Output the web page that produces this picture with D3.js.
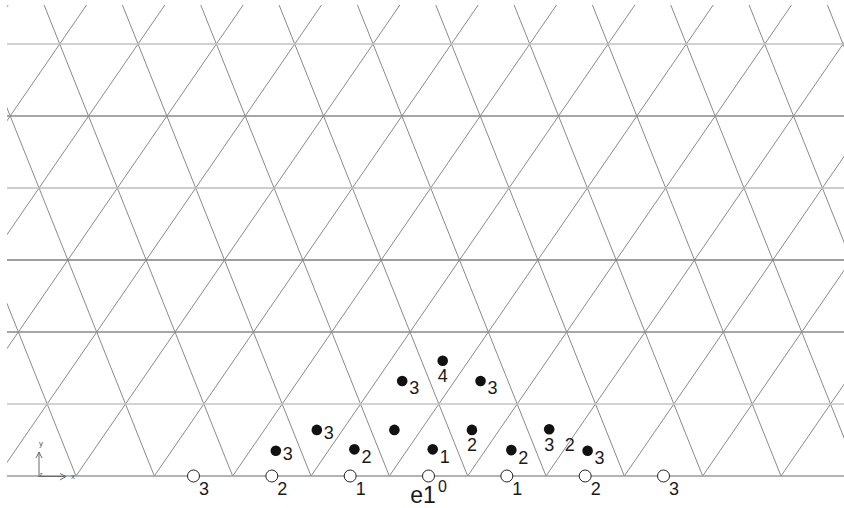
<!DOCTYPE html>
<html>
<head>
<meta charset="utf-8">
<script src="https://cdn.jsdelivr.net/npm/d3@7/dist/d3.min.js"></script>
<style>
  html, body { margin: 0; padding: 0; background: #fff; }
  svg { display: block; }
  text { font-family: "Liberation Sans", Arial, sans-serif; fill: #1a1a1a; }
</style>
</head>
<body>
<svg id="chart" width="844" height="508"></svg>
<script>
// Filled sites, given in lattice coordinates (a along e1, b along the slanted e2)
const dotA = [-2.17, -1.83, -1.18, -0.84, -0.18, 0.15, 0.83, 1.13, 1.81, -1.17, -0.83, -0.17];
const dotB = [0.35, 0.64, 0.37, 0.64, 0.37, 0.64, 0.36, 0.65, 0.35, 1.32, 1.60, 1.32];
const dotLabels = ["3", "3", "2", "", "1", "2", "2", "3", "3", "3", "4", "3"];
const dotLabelSide = ["r", "r", "br", "", "br", "b", "br", "b", "br", "br", "b", "br"];

// Open sites on the e1 axis
const ringA = [-3, -2, -1, 0, 1, 2, 3];
const ringLabels = ["3", "2", "1", "0", "1", "2", "3"];

// Loose labels
const freeText = ["2"];
const freeA = [1.53];
const freeB = [0.43];
const axisName = "e1";

// Lattice rows and slanted line indices
const rows = d3.range(0, 7);
const slantIdx = d3.range(-16, 17).map(k => k + 0.5);

const W = 844, H = 508;
const SKEW = 0.632;               // horizontal offset of e2 in units of e1
const xScale = d3.scaleLinear().domain([-3, 3]).range([193.5, 663.5]);
const yScale = d3.scaleLinear().domain([0, 6]).range([476, 44]);
const X = (a, b) => xScale(a + SKEW * b);
const Y = b => yScale(b);

const svg = d3.select("#chart");

svg.append("defs").append("clipPath").attr("id", "gridClip")
  .append("rect").attr("x", 7).attr("y", 5).attr("width", W - 7).attr("height", 476 - 5);

const grid = svg.append("g").attr("clip-path", "url(#gridClip)");

// slanted families: constant a (leaning right) and constant a+b (leaning left)
const bTop = 7;
grid.selectAll("line.r").data(slantIdx).join("line").attr("class", "r")
  .attr("x1", c => X(c, 0)).attr("y1", Y(0))
  .attr("x2", c => X(c, bTop)).attr("y2", Y(bTop))
  .attr("stroke", "#8a8a8a").attr("stroke-width", 1);
grid.selectAll("line.l").data(slantIdx).join("line").attr("class", "l")
  .attr("x1", c => X(c, 0)).attr("y1", Y(0))
  .attr("x2", c => X(c - bTop, bTop)).attr("y2", Y(bTop))
  .attr("stroke", "#8a8a8a").attr("stroke-width", 1);

// horizontal rows, alternating weight
const rowColor = ["#9a9a9a", "#c4c4c4", "#8a8a8a", "#7e7e7e", "#bdbdbd", "#888888", "#c2c2c2"];
const rowWidth = [1.6, 1.6, 1.4, 1.4, 1.4, 1.6, 1.4];
svg.selectAll("line.h").data(rows).join("line").attr("class", "h")
  .attr("x1", 7).attr("x2", W)
  .attr("y1", d => Y(d)).attr("y2", d => Y(d))
  .attr("stroke", d => rowColor[d]).attr("stroke-width", d => rowWidth[d]);

// small coordinate-frame glyph
const frame = svg.append("g").attr("stroke", "#6a6a6a").attr("stroke-width", 1).attr("fill", "none");
frame.append("path").attr("d", "M39,477 V452 M36,458 L39,452 L42,458");
frame.append("path").attr("d", "M39,476.5 H66 M60,473.5 L66,476.5 L60,480");
svg.append("text").attr("x", 41).attr("y", 446).attr("font-size", 8).attr("text-anchor", "middle")
  .style("fill", "#555").text("y");
svg.append("text").attr("x", 73).attr("y", 479).attr("font-size", 8).attr("text-anchor", "middle")
  .style("fill", "#555").text("x");
svg.append("text").attr("x", 41).attr("y", 476).attr("font-size", 6).attr("text-anchor", "middle")
  .style("fill", "#555").text("z");

// open sites; the origin's index sits as a superscript beside the axis name
const ringData = ringA.map((a, i) => ({ a, label: ringLabels[i] }));
svg.selectAll("circle.ring").data(ringData).join("circle").attr("class", "ring")
  .attr("cx", d => X(d.a, 0)).attr("cy", Y(0)).attr("r", 6)
  .attr("fill", "#fff").attr("stroke", "#222").attr("stroke-width", 1);
svg.selectAll("text.ring").data(ringData).join("text").attr("class", "ring")
  .attr("x", d => X(d.a, 0) + (d.a === 0 ? 14 : 10.5))
  .attr("y", d => Y(0) + (d.a === 0 ? 10 : 12.5))
  .attr("text-anchor", "middle").attr("dominant-baseline", "central")
  .attr("font-size", d => d.a === 0 ? 16 : 18).text(d => d.label);

svg.append("text").attr("x", X(0, 0) - 5.5).attr("y", Y(0) + 27)
  .attr("text-anchor", "middle").attr("font-size", 23).text(axisName);

// filled sites
const dotData = dotA.map((a, i) => ({ a, b: dotB[i], label: dotLabels[i], side: dotLabelSide[i] }));
svg.selectAll("circle.dot").data(dotData).join("circle").attr("class", "dot")
  .attr("cx", d => X(d.a, d.b)).attr("cy", d => Y(d.b)).attr("r", 5.3)
  .attr("fill", "#111");
const offset = { r: [12, 3], br: [12, 7.5], b: [0, 15.5] };
svg.selectAll("text.dot").data(dotData.filter(d => d.label)).join("text").attr("class", "dot")
  .attr("x", d => X(d.a, d.b) + offset[d.side][0])
  .attr("y", d => Y(d.b) + offset[d.side][1])
  .attr("text-anchor", "middle").attr("dominant-baseline", "central")
  .attr("font-size", 18).text(d => d.label);

svg.selectAll("text.free").data(freeText).join("text").attr("class", "free")
  .attr("x", (d, i) => X(freeA[i], freeB[i])).attr("y", (d, i) => Y(freeB[i]))
  .attr("text-anchor", "middle").attr("dominant-baseline", "central")
  .attr("font-size", 18).text(d => d);
</script>
</body>
</html>
